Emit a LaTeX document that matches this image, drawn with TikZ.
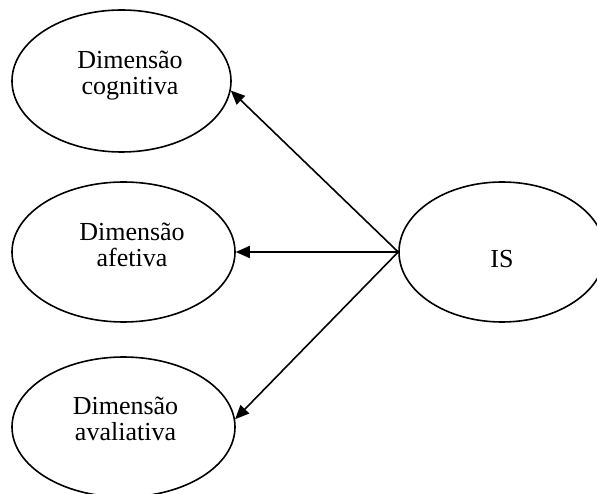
\documentclass[tikz,border=0pt]{standalone}
\usepackage{fontspec}
\setmainfont{Liberation Serif}
\usetikzlibrary{shapes.geometric,arrows.meta}
\begin{document}
\begin{tikzpicture}[x=1pt,y=1pt,
  oval/.style={draw,ellipse,line width=1.6pt,inner sep=0pt},
  txt/.style={inner sep=0pt,align=center,font=\fontsize{26}{26}\selectfont},
  arr/.style={line width=1.6pt,-{Triangle[length=14pt,width=12pt]}}]
\useasboundingbox (0,0) rectangle (597,-494);
\node[oval,minimum width=219pt,minimum height=142pt] (cog) at (121.5,-81) {};
\node[oval,minimum width=223pt,minimum height=140pt] (afe) at (123.5,-252) {};
\node[oval,minimum width=223pt,minimum height=140pt] (ava) at (123.5,-427) {};
\node[oval,minimum width=206pt,minimum height=140pt] (is) at (502,-252) {};
\node[txt] (cogt) at ([shift={(8.5,5)}]cog.center) {Dimensão\\cognitiva};
\node[txt] (afet) at ([shift={(8.5,7.5)}]afe.center) {Dimensão\\afetiva};
\node[txt] (avat) at ([shift={(2,8)}]ava.center) {Dimensão\\avaliativa};
\node[txt] (ist) at ([shift={(0,-6.7)}]is.center) {IS};
\draw[arr] (is.west) -- (cog.-5);
\draw[arr] (is.west) -- (afe.east);
\draw[arr] (is.west) -- (ava.4);
\end{tikzpicture}
\end{document}
